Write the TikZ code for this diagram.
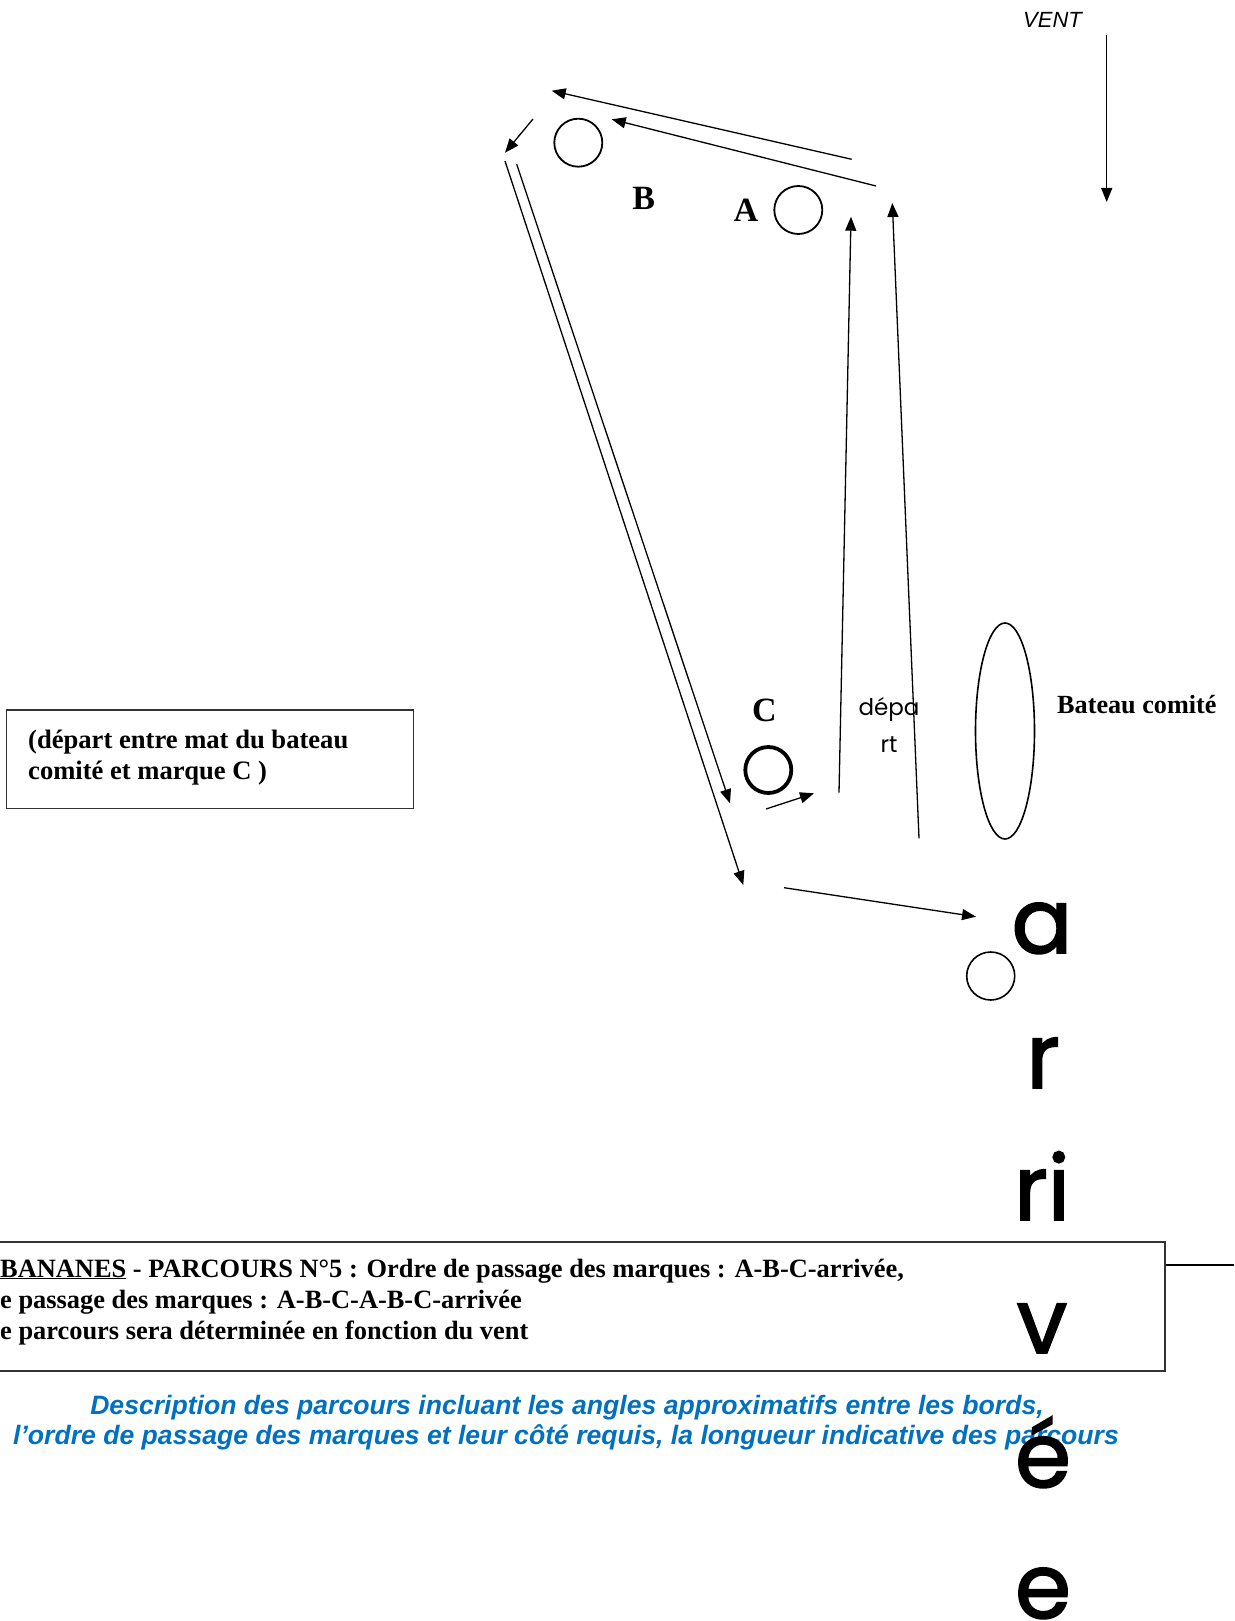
\documentclass[tikz,border=0pt]{standalone}
\usepackage{fontspec}
\setmainfont{Liberation Serif}
\newfontfamily\arialf{Liberation Sans}
\newfontfamily\comicf{Poppins}
\newfontfamily\comicbig[FakeBold=2]{Poppins}
\usetikzlibrary{arrows.meta,shapes.geometric}
\definecolor{descblue}{HTML}{0070C0}
\definecolor{boxgray}{HTML}{333333}
\tikzset{
  arr/.style={line width=1.3pt,-{Triangle[length=14pt,width=11pt]}},
  buoy/.style={circle,draw,line width=1.8pt,minimum size=48pt,inner sep=0pt},
  lbl/.style={inner sep=0pt,font=\fontsize{34}{40}\selectfont\bfseries},
  tnr/.style={inner sep=0pt,font=\fontsize{26.4}{31}\selectfont\bfseries},
  desc/.style={inner sep=0pt,anchor=base,text=descblue,font=\arialf\bfseries\itshape\fontsize{26.6}{30}\selectfont},
  big/.style={inner sep=0pt,anchor=base,font=\comicbig\fontsize{90}{90}\selectfont},
}
\begin{document}
\begin{tikzpicture}[x=1pt,y=-1pt]
\useasboundingbox (0,0) rectangle (1234,1621);
% wind
\node[inner sep=0pt,anchor=base west,font=\arialf\itshape\fontsize{22}{26}\selectfont] (vent) at (1023,28) {VENT};
\coordinate (w1) at (1106.7,35);
\coordinate (w2) at (1106.7,202);
\draw[arr] (w1) -- (w2);
% marks
\node[buoy] (B) at (578.3,142.7) {};
\node[buoy] (A) at (798.3,210) {};
\node[buoy,line width=3.8pt,minimum size=46pt] (C) at (768.3,770) {};
\node[buoy,line width=1.6pt] (F) at (990.7,976) {};
\node[ellipse,draw,line width=1.6pt,minimum width=59pt,minimum height=216pt,inner sep=0pt] (boat) at (1005,731) {};
% labels
\node[lbl,anchor=base] (lB) at (643.8,210) {B};
\node[lbl,anchor=base] (lA) at (746,221.7) {A};
\node[lbl,anchor=base] (lC) at (764.5,721.7) {C};
\node[tnr,font=\fontsize{26.2}{31}\selectfont\bfseries,anchor=base west] (boatlbl) at (1057,713) {Bateau comité};
\node[inner sep=0pt,anchor=base,align=center,font=\comicf\fontsize{23}{37}\selectfont] (depart) at (889,752) {dépa\\rt};
% course arrows
\coordinate (p1) at (851.7,159.3); \coordinate (p2) at (551.7,90.7);
\coordinate (q1) at (876,186);     \coordinate (q2) at (611.7,119.3);
\coordinate (r1) at (533,119);     \coordinate (r2) at (505,152.7);
\coordinate (s1) at (505,161);     \coordinate (s2) at (743.3,885);
\coordinate (t1) at (516.7,164.3); \coordinate (t2) at (730,803.3);
\coordinate (u1) at (839,792.7);   \coordinate (u2) at (851,216.7);
\coordinate (v1) at (919,838.3);   \coordinate (v2) at (892.3,203);
\coordinate (c1) at (766,809);     \coordinate (c2) at (814,793.3);
\coordinate (f1) at (784,887.7);   \coordinate (f2) at (976,916.7);
\draw[arr] (p1) -- (p2);
\draw[arr] (q1) -- (q2);
\draw[arr] (r1) -- (r2);
\draw[arr] (s1) -- (s2);
\draw[arr] (t1) -- (t2);
\draw[arr] (u1) -- (u2);
\draw[arr] (v1) -- (v2);
\draw[arr] (c1) -- (c2);
\draw[arr] (f1) -- (f2);
% left box
\node[draw=boxgray,line width=1.5pt,minimum width=406.6pt,minimum height=98.3pt,inner sep=0pt] (startbox) at (210,759.2) {};
\node[tnr,font=\fontsize{26.6}{31}\selectfont\bfseries,anchor=base west] (st1) at (28,748) {(départ entre mat du bateau};
\node[tnr,font=\fontsize{26.6}{31}\selectfont\bfseries,anchor=base west] (st2) at (28,779) {comité et marque C )};
% bottom box
\node[draw=boxgray,line width=1.8pt,minimum width=1175pt,minimum height=129pt,inner sep=0pt] (bbox) at (577.5,1306.3) {};
\coordinate (bl) at (1234,1265);
\draw[line width=1.3pt] (bbox.east |- bl) -- (bl);
\node[tnr,anchor=base west] (b1) at (0,1277) {\underline{BANANES} - PARCOURS N°5 : Ordre de passage des marques : A-B-C-arrivée,};
\node[tnr,anchor=base west] (b2) at (0,1308) {e passage des marques : A-B-C-A-B-C-arrivée};
\node[tnr,anchor=base west] (b3) at (0,1339) {e parcours sera déterminée en fonction du vent};
% description
\node[desc] (d1) at (567,1414) {Description des parcours incluant les angles approximatifs entre les bords,};
\node[desc] (d2) at (566,1444) {l’ordre de passage des marques et leur côté requis, la longueur indicative des parcours};
% arrivee letters
\node[big] (g1) at (1042,953) {a};
\node[big] (g2) at (1043,1088) {r};
\node[big] (g3) at (1042,1220) {ri};
\node[big] (g4) at (1042,1353) {v};
\node[big] (g5) at (1043,1487) {é};
\node[big] (g6) at (1043,1618) {e};
\end{tikzpicture}
\end{document}
